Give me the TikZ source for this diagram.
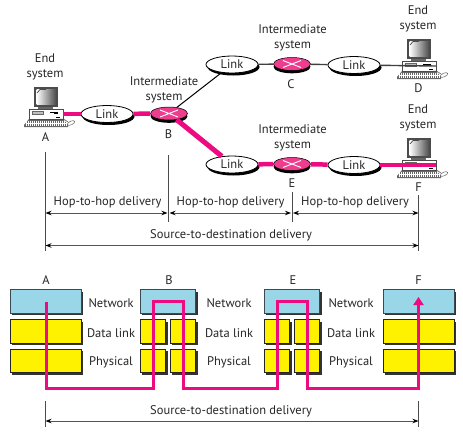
\documentclass[tikz,border=0pt]{standalone}
\usepackage{fontspec}
\setmainfont{PT Sans}
\usetikzlibrary{shapes.geometric,shadows,arrows.meta}
\definecolor{wire}{HTML}{EC0B80}
\definecolor{routerpink}{HTML}{EE3D8E}
\definecolor{netblue}{HTML}{98D6E8}
\definecolor{boxedge}{HTML}{3A4A50}
\definecolor{dimline}{HTML}{555555}
\tikzset{
  x=1pt,y=-1pt,
  lbl/.style={font=\fontsize{12.5}{15}\selectfont,inner sep=0pt,align=center,text=black!85},
  linkoval/.style={ellipse,draw=black,line width=.8pt,fill=white,minimum width=52pt,minimum height=17pt,inner sep=0pt,
    font=\fontsize{12.5}{15}\selectfont,text=black!85,
    drop shadow={shadow xshift=1.5pt,shadow yshift=-2.5pt,fill=black,opacity=1}},
  router/.style={ellipse,draw=black,line width=.5pt,fill=routerpink,minimum width=37pt,minimum height=13pt,inner sep=0pt,
    drop shadow={shadow xshift=0pt,shadow yshift=-2.8pt,fill=black,opacity=1},
    path picture={\draw[white,line width=.9pt]
      ([shift={(-9pt,-3.5pt)}]path picture bounding box.center) -- ([shift={(9pt,3.5pt)}]path picture bounding box.center)
      ([shift={(-9pt,3.5pt)}]path picture bounding box.center) -- ([shift={(9pt,-3.5pt)}]path picture bounding box.center);}},
  netbox/.style={rectangle,draw=boxedge,line width=.8pt,fill=netblue,inner sep=0pt,minimum height=23.5pt,
    drop shadow={shadow xshift=1.8pt,shadow yshift=-1.8pt,fill=black!80,opacity=1}},
  linkbox/.style={netbox,draw=black!85,fill=yellow},
  thickwire/.style={wire,line width=4.5pt},
  greywire/.style={black!75,line width=1.4pt},
  thinwire/.style={black,line width=1pt},
  route/.style={wire,line width=3pt,line join=miter},
  dimtick/.style={black!70,line width=.8pt},
  dimarrow/.style={dimline,line width=.9pt,{Stealth[length=6pt,width=4.5pt,black]}-{Stealth[length=6pt,width=4.5pt,black]}},
  computer/.pic={
    \fill[black!60] (-21,10) -- (-16,4) -- (18,4) -- (23,10) -- (23,12) -- (-21,12) -- cycle;
    \foreach \k in {-19,-17,...,21}{\draw[white,line width=.35pt] (\k,5.5) -- (\k,11);}
    \draw[white,line width=.3pt] (-19,8) -- (21,8);
    \draw[black!70,line width=.6pt,fill=white] (-16,-6) rectangle (18,4);
    \draw[black!60,fill=black!25] (-13,-3.5) rectangle (-2,-.5);
    \draw[black,line width=.6pt] (5,-2.5) -- (13,-2.5);
    \fill[black] (9,-2.5) rectangle (13,-1);
    \fill[black] (11,2) rectangle (15,3);
    \fill[black!60] (-7,-8) rectangle (8,-6);
    \fill[black!70] (-3,-9) rectangle (4,-8);
    \fill[black!70] (-11,-28) rectangle (13,-8.5);
    \shade[left color=white,right color=black!70] (-8.5,-26) rectangle (11,-11);
    \draw[black!70,line width=.7pt] (-8,-22) -- (-5,-25.5) -- (1,-25.5);
    \draw[black!70,line width=.5pt] (15,4) .. controls (19,4) and (21,5) .. (23,7);
    \draw[black!60,fill=white,line width=.5pt,rotate around={25:(26,8)}] (26,8) ellipse (4 and 1.8);
    \coordinate (-port) at (18,-1);
  }
}
\begin{document}
\begin{tikzpicture}
\useasboundingbox (0,0) rectangle (463,432);
% ---------- computers
\pic (pcA) at (45,115) {computer};
\pic (pcD) at (418,67) {computer};
\pic (pcF) at (418,166) {computer};
% ---------- routers and links
\node[router] (B) at (169,113.5) {};
\node[router] (C) at (292,64) {};
\node[router] (E) at (292,164) {};
\node[linkoval] (L1) at (107,114) {Link};
\node[linkoval] (L2) at (232,64.5) {Link};
\node[linkoval] (L3) at (354,65) {Link};
\node[linkoval] (L4) at (232,164.5) {Link};
\node[linkoval] (L5) at (354,165) {Link};
% ---------- connectors
\draw[thickwire] (pcA-port) -- (L1);
\draw[thickwire] (L1) -- (B);
\draw[thickwire,line width=5pt] (B) -- (L4);
\draw[thinwire] (B) -- (L2);
\draw[greywire] (L2) -- (C);
\draw[greywire] (C) -- (L3);
\draw[greywire] (L3) -- (pcD-port);
\draw[thickwire] (L4) -- (E);
\draw[thickwire] (E) -- (L5);
\draw[thickwire] (L5) -- (pcF-port);
% ---------- labels top
\node[lbl] (tEndA) at (45,67) {End\\system};
\node[lbl] (tEndD) at (418,19) {End\\system};
\node[lbl] (tEndF) at (418,118) {End\\system};
\node[lbl] (tIntB) at (164,90) {Intermediate\\system};
\node[lbl] (tIntC) at (292.5,38) {Intermediate\\system};
\node[lbl] (tIntE) at (292.5,138) {Intermediate\\system};
\node[lbl] (nA) at (45.5,137) {A};
\node[lbl] (nB) at (168.5,134) {B};
\node[lbl] (nC) at (291,84) {C};
\node[lbl] (nD) at (418.5,88) {D};
\node[lbl] (nE) at (292,183) {E};
\node[lbl] (nF) at (418.5,187) {F};
% ---------- delivery dimensions (top)
\coordinate (aT) at (45.5,152); \coordinate (aB) at (45.5,251);
\coordinate (bT) at (168.5,155); \coordinate (bB) at (168.5,222);
\coordinate (eT) at (292,192); \coordinate (eB) at (292,222);
\coordinate (fT) at (418.5,195); \coordinate (fB) at (418.5,251);
\draw[dimtick] (aT) -- (aB);
\draw[dimtick] (bT) -- (bB);
\draw[dimtick] (eT) -- (eB);
\draw[dimtick] (fT) -- (fB);
\coordinate (h1a) at (45.5,213); \coordinate (h1b) at (167.5,213);
\coordinate (h2a) at (169.5,213); \coordinate (h2b) at (291,213);
\coordinate (h3a) at (293,213); \coordinate (h3b) at (418.5,213);
\draw[dimarrow] (h1a) -- (h1b);
\draw[dimarrow] (h2a) -- (h2b);
\draw[dimarrow] (h3a) -- (h3b);
\node[lbl] (hop1) at (107.5,202) {Hop-to-hop delivery};
\node[lbl] (hop2) at (230.5,202) {Hop-to-hop delivery};
\node[lbl] (hop3) at (355,202) {Hop-to-hop delivery};
\coordinate (s1a) at (45.5,245.5); \coordinate (s1b) at (418.5,245.5);
\draw[dimarrow] (s1a) -- (s1b);
\node[lbl] (src1) at (231,235) {Source-to-destination delivery};
% ---------- layer stacks
\node[netbox,minimum width=71pt] (An) at (45.5,301.5) {};
\node[linkbox,minimum width=71pt] (Ad) at (45.5,331.5) {};
\node[linkbox,minimum width=71pt] (Ap) at (45.5,361) {};
\node[netbox,minimum width=55.5pt] (Bn) at (168,301.5) {};
\node[linkbox,minimum width=25.5pt] (Bd1) at (153,331.5) {};
\node[linkbox,minimum width=25.5pt] (Bd2) at (183,331.5) {};
\node[linkbox,minimum width=25.5pt] (Bp1) at (153,361) {};
\node[linkbox,minimum width=25.5pt] (Bp2) at (183,361) {};
\node[netbox,minimum width=55.5pt] (En) at (292,301.5) {};
\node[linkbox,minimum width=25.5pt] (Ed1) at (277,331.5) {};
\node[linkbox,minimum width=25.5pt] (Ed2) at (307,331.5) {};
\node[linkbox,minimum width=25.5pt] (Ep1) at (277,361) {};
\node[linkbox,minimum width=25.5pt] (Ep2) at (307,361) {};
\node[netbox,minimum width=71pt] (Fn) at (418.5,301.5) {};
\node[linkbox,minimum width=71pt] (Fd) at (418.5,331.5) {};
\node[linkbox,minimum width=71pt] (Fp) at (418.5,361) {};
% ---------- layer labels
\node[lbl] (sA) at (46,280) {A};
\node[lbl] (sB) at (169,280) {B};
\node[lbl] (sE) at (293,280) {E};
\node[lbl] (sF) at (418.5,280) {F};
\foreach \x/\n in {111/a,229/b,351/c}{
  \node[lbl] (net\n) at (\x,303.5) {Network};
  \node[lbl] (dl\n) at (\x,333) {Data link};
  \node[lbl] (ph\n) at (\x,362.5) {Physical};
}
% ---------- route
\coordinate (rS) at (46,301.5);
\coordinate (rT) at (418.5,297);
\draw[route,-{Triangle[length=8pt,width=10pt]}] (rS) -- (46,388) -- (153,388) -- (153,301) -- (183,301) -- (183,388)
  -- (277,388) -- (277,301) -- (307,301) -- (307,388) -- (418.5,388) -- (rT);
% ---------- delivery dimension (bottom)
\coordinate (a2T) at (45.5,401); \coordinate (a2B) at (45.5,427);
\coordinate (f2T) at (418.5,401); \coordinate (f2B) at (418.5,427);
\draw[dimtick] (a2T) -- (a2B);
\draw[dimtick] (f2T) -- (f2B);
\coordinate (s2a) at (45.5,421); \coordinate (s2b) at (418.5,421);
\draw[dimarrow] (s2a) -- (s2b);
\node[lbl] (src2) at (231,411) {Source-to-destination delivery};
\end{tikzpicture}
\end{document}
